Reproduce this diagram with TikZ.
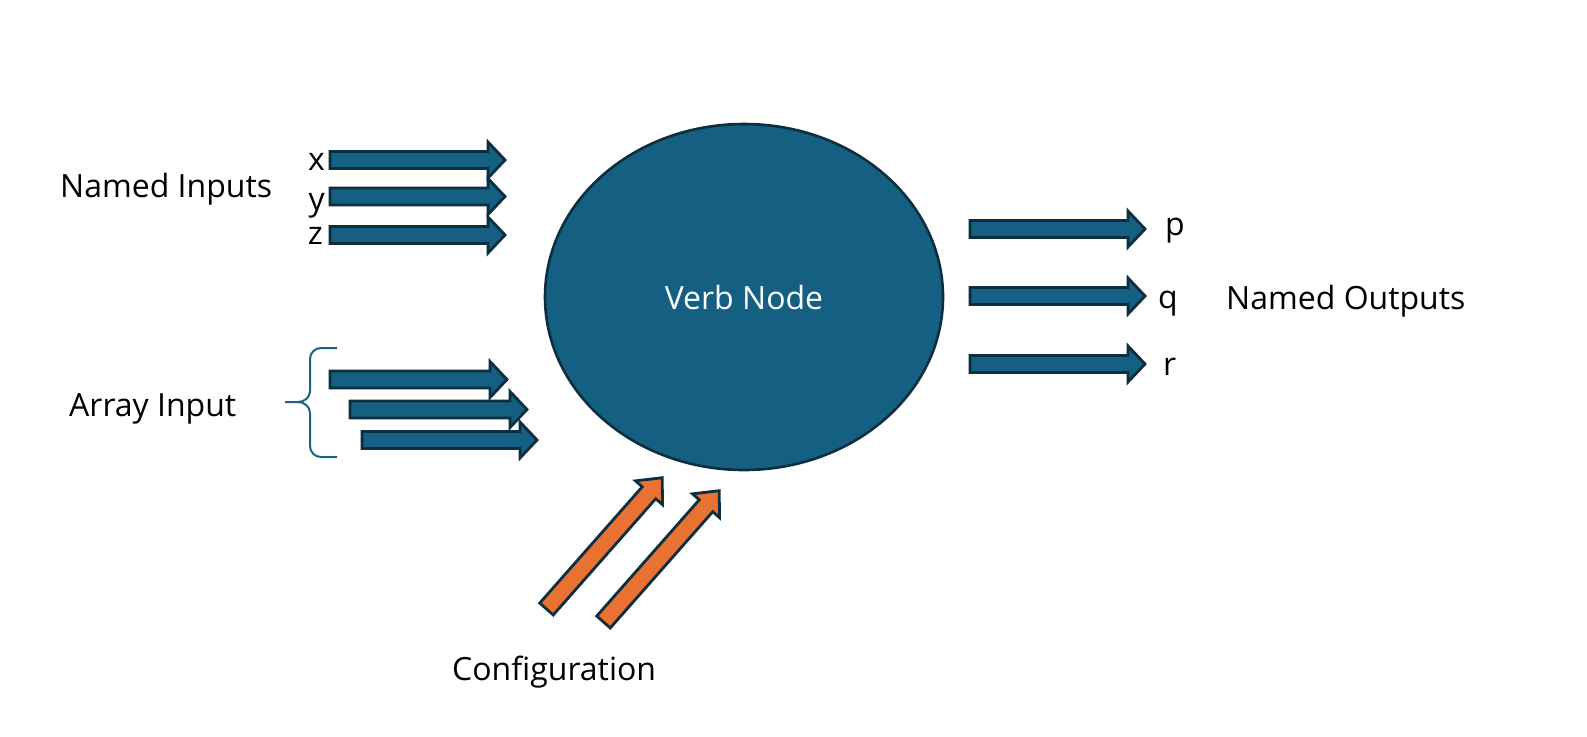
\documentclass[tikz,border=0pt]{standalone}
\usepackage{fontspec}
\setmainfont{Open Sans}
\usetikzlibrary{shapes.geometric}
\definecolor{vblue}{HTML}{156082}
\definecolor{vedge}{HTML}{0B2E40}
\definecolor{vorange}{HTML}{E97132}
\definecolor{vbrace}{HTML}{1D6286}
\tikzset{
  blockarrow/.style={fill=vblue, draw=vedge, line width=2.8pt, line join=miter},
  cfgarrow/.style={fill=vorange, draw=vedge, line width=2.8pt, line join=miter},
  lbl/.style={inner sep=0pt, font=\fontsize{32}{38}\selectfont, text=black},
  bracestyle/.style={draw=vbrace, line width=2pt},
  verb/.style={ellipse, fill=vblue, draw=vedge, line width=2.6pt, inner sep=0pt,
    minimum width=398pt, minimum height=346pt, text=white, font=\fontsize{32}{38}\selectfont}
}
% horizontal block arrow: #1 start x, #2 tip x, #3 centre y
\newcommand{\hbarrow}[3]{%
  \draw[blockarrow] ({#1},{#3-8.5}) -- ({#2-17},{#3-8.5}) -- ({#2-17},{#3-18}) -- ({#2},{#3})
    -- ({#2-17},{#3+18}) -- ({#2-17},{#3+8.5}) -- ({#1},{#3+8.5}) -- cycle;}
% diagonal orange arrow from tail point
\newcommand{\cfgarrowat}[2]{%
  \begin{scope}[shift={(#1,#2)}, rotate=48.6]
    \draw[cfgarrow] (0,-9) -- (155,-9) -- (155,-18) -- (175,0) -- (155,18) -- (155,9) -- (0,9) -- cycle;
  \end{scope}}
\begin{document}
\begin{tikzpicture}[x=1pt, y=-1pt]
\useasboundingbox[fill=white] (0,0) rectangle (1587,736);

% central node
\node[verb] (verb) at (744,297) {Verb Node};

% named inputs
\hbarrow{330}{505}{160}
\hbarrow{330}{505}{196.5}
\hbarrow{330}{505}{235}
\node[lbl, anchor=base east] (lx) at (325,170) {x};
\node[lbl, anchor=base east] (ly) at (325,210) {y};
\node[lbl, anchor=base east] (lz) at (323,244) {z};
\node[lbl, anchor=base west] (namedin) at (60,197) {Named Inputs};

% array input
\hbarrow{330}{507}{379.5}
\hbarrow{350}{527}{409.5}
\hbarrow{362}{537}{440}
\draw[bracestyle] (337,348) -- (321,348) to[out=180,in=90] (310,359) -- (310,391)
  to[out=270,in=0] (298,402) -- (285,402);
\draw[bracestyle] (298,402) to[out=0,in=90] (310,413) -- (310,446)
  to[out=270,in=180] (321,457) -- (337,457);
\node[lbl, anchor=base west] (arrayin) at (69,416) {Array Input};

% named outputs
\hbarrow{970}{1145}{229}
\hbarrow{970}{1145}{296}
\hbarrow{970}{1145}{364}
\node[lbl, anchor=base west] (lp) at (1165,235) {p};
\node[lbl, anchor=base west] (lq) at (1158,308) {q};
\node[lbl, anchor=base west] (lr) at (1163,375) {r};
\node[lbl, anchor=base west] (namedout) at (1226,309) {Named Outputs};

% configuration
\cfgarrowat{546.5}{609}
\cfgarrowat{603.5}{622}
\node[lbl, anchor=base west] (config) at (452,680) {Configuration};
\end{tikzpicture}
\end{document}
